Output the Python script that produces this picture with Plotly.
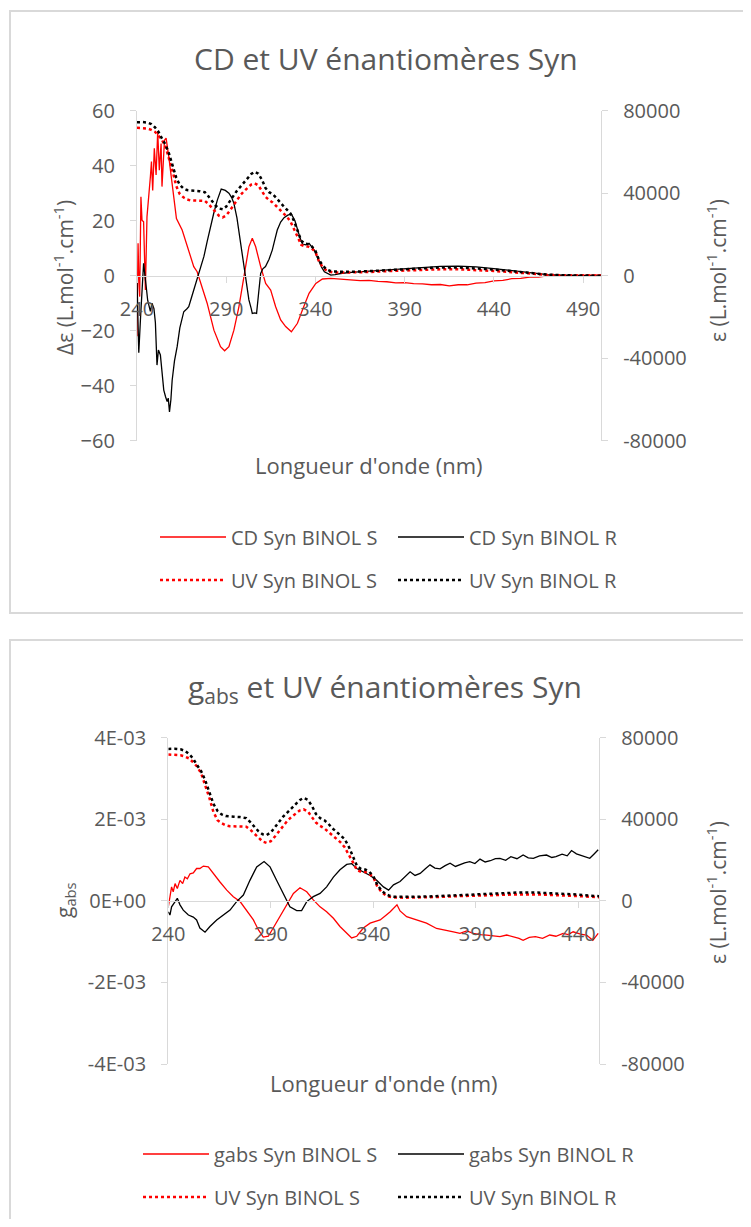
import plotly.graph_objs as go

# ---- data ----
uv_nm = [240, 243, 246, 248, 250, 252, 254, 256, 258, 260, 262, 264, 266, 268, 270, 272, 275, 278, 280, 282,
         284, 286, 288, 290, 292, 294, 296, 298, 300, 302, 304, 306, 308, 310, 312, 314, 316, 318, 320, 322,
         324, 326, 328, 330, 332, 334, 336, 338, 340, 342, 344, 346, 348, 350, 355, 360, 370, 380, 390, 400,
         410, 420, 430, 440, 450, 460, 470, 480, 490, 500]
uv_r = [74400, 74500, 74200, 73500, 72000, 69800, 66500, 63500, 59000, 53500, 47500, 44000, 42300, 41500, 41200, 41200, 41000, 40500, 38500, 36500,
        34000, 32600, 32200, 33500, 36200, 38800, 41200, 43200, 45300, 47300, 49300, 50400, 49500, 46500, 42500, 40500, 39500, 37800, 35500, 33800,
        32000, 30200, 26500, 22100, 17000, 15500, 15300, 14200, 12000, 7600, 5000, 3200, 2400, 2000, 1900, 1900, 2200, 2700, 3200, 3700,
        4000, 4000, 3600, 3000, 2200, 1200, 500, 200, 100, 0]
uv_s = [71700, 71500, 71300, 70700, 69800, 68000, 65800, 62500, 57000, 50500, 43500, 39500, 38000, 37000, 36500, 36400, 36500, 36300, 34800, 32800,
        30500, 29000, 28300, 29200, 31500, 34000, 36700, 39100, 41000, 42800, 44200, 44800, 43800, 41000, 38300, 36700, 35500, 33800, 32200, 30600,
        28600, 26200, 22800, 18900, 15000, 14200, 14100, 13200, 11500, 6800, 4300, 2700, 1900, 1600, 1500, 1500, 1800, 2200, 2600, 2900,
        3100, 3100, 2800, 2300, 1700, 1000, 400, 150, 50, 0]

cd_r_nm = [240, 240.5, 241, 242, 243, 243.7, 245, 246, 247.5, 248.4, 249.5, 250.3, 251.2, 252, 253.1, 254, 255, 256, 256.9, 257.5,
           258.2, 259, 259.7, 261, 262.5, 264, 266.2, 268, 269, 270.5, 271.8, 273.5, 275.6, 277.5, 279.3, 281, 283, 285, 287.2, 289.5,
           291.5, 293, 294.3, 296, 297, 298.5, 300, 301.5, 302.7, 304, 304.6, 306, 307, 308.2, 309.3, 310.5, 312, 314, 315.8, 317,
           318.6, 320.5, 322.4, 324.5, 326.5, 328.5, 330, 331.5, 332.7, 334.5, 336.4, 338, 339.3, 340.5, 342, 343.5, 345, 347, 348.6, 351,
           354, 360, 370, 380, 390, 400, 410, 420, 430, 440, 450, 460, 470, 480, 490, 500]
cd_r = [-2, -20, -28, -15, -2, 4.5, -3, -9, -13, -10, -12, -17, -32.5, -27, -28.8, -36, -41.6, -44, -45.8, -44.5,
        -49.5, -45, -38, -31, -25.8, -19, -13.1, -12, -11.3, -8, -5.2, -2, 2.1, 7, 12.4, 17.5, 22.7, 27.5, 31.5, 31,
        30, 28.5, 26.3, 21, 16.6, 9, 2.1, -4, -8.8, -12, -13.7, -13.5, -13.7, -6, 0.8, 2.5, 3.3, 6, 9.3, 12.5,
        16.6, 19.5, 21.1, 22, 22.4, 20, 16.6, 13.5, 11.5, 11.2, 11.8, 10.5, 9.3, 7.5, 5.1, 3, 1.45, 0.6, 0.2, 0.4,
        0.8, 1.2, 1.6, 2.0, 2.5, 3.0, 3.4, 3.5, 3.2, 2.6, 1.8, 1.0, 0.4, 0.2, 0.0, -0.2]

cd_s_nm = [240, 240.6, 240.9, 241.5, 242.2, 242.8, 243.7, 244.7, 245.6, 246.6, 247.5, 248.1, 248.8, 249.7, 250.7, 251.6, 252.5, 253.5, 254, 255.4,
           256.3, 257.8, 259.7, 262.1, 265.3, 268.1, 271.8, 273.7, 275.6, 279.3, 283.1, 286.8, 289.1, 291.5, 294.3, 297.1, 299.9, 302.7, 304.6, 306.5,
           309.3, 312.1, 314.9, 317.7, 320.5, 323.3, 326.5, 329.9, 332.7, 336.4, 340.2, 343.9, 348.6, 355, 360, 365, 370, 375, 380, 385,
           390, 395, 400, 405, 410, 415, 420, 425, 430, 435, 440, 445, 450, 455, 460, 465, 470, 480, 490, 500]
cd_s = [-22, 11.8, 2, -7.6, 28.7, 20.2, 19.6, -5.2, 21.5, 31.2, 36, 41.5, 31, 46.3, 36.6, 52.4, 38.4, 48.1, 32.4, 49.3,
        50, 43.3, 32.4, 20.8, 16.6, 10.5, 3.3, 1.45, -2.2, -10, -19.8, -25.8, -27.3, -25.8, -19.8, -11.3, -0.4, 10.5, 13.6, 10.5,
        3.3, -2.8, -5.2, -11.3, -16.1, -18.5, -20.4, -17.3, -12.5, -6.4, -2.8, -1.2, -1.0, -1.3, -1.4, -1.8, -1.7, -2.1, -2.2, -2.6,
        -2.5, -2.9, -3.0, -3.3, -3.2, -3.7, -3.3, -3.3, -2.7, -2.5, -1.9, -1.7, -1.1, -1.0, -0.5, -0.5, -0.1, 0.1, 0.2, 0.3]

gabs_s_nm = [240, 240.8, 241.6, 242.4, 243.3, 244.4, 245.7, 247, 248.1, 249.3, 250.6, 252.2, 253.8, 255.4, 257.1, 259.5, 262, 265.2, 268.5, 271.7,
             275, 278.2, 281.5, 283.9, 286.3, 288.8, 291.2, 294.5, 297.7, 301, 304.2, 307.5, 310.7, 314, 317.2, 320.5, 323.7, 327, 329.4, 331.9,
             335.1, 338.4, 341.6, 343.3, 346, 348.2, 351.5, 353, 356.2, 361, 365.9, 370.8, 375.7, 379, 382.2, 385.5, 388.7, 392, 395.2, 398.5,
             401.7, 405, 408, 411, 413, 416, 419, 422.5, 426, 429, 432.5, 435, 437.4, 441, 443.9, 447, 449.6]
gabs_s = [-0.15, 0.1, 0.34, 0.22, 0.42, 0.3, 0.5, 0.42, 0.58, 0.54, 0.66, 0.68, 0.79, 0.79, 0.85, 0.83, 0.66, 0.46, 0.26, 0.1,
          -0.02, -0.23, -0.47, -0.71, -0.89, -0.87, -0.67, -0.39, -0.1, 0.18, 0.32, 0.22, 0.02, -0.15, -0.27, -0.43, -0.63, -0.79, -0.91, -0.87,
          -0.67, -0.55, -0.51, -0.47, -0.36, -0.27, -0.1, -0.25, -0.39, -0.47, -0.55, -0.68, -0.72, -0.76, -0.8, -0.74, -0.8, -0.83, -0.84, -0.86,
          -0.88, -0.84, -0.88, -0.92, -0.97, -0.9, -0.88, -0.92, -0.84, -0.87, -0.8, -0.83, -0.76, -0.82, -0.84, -0.97, -0.8]
gabs_s = [v * 1e-3 for v in gabs_s]

gabs_r_nm = [240, 240.8, 241.6, 243.3, 244.4, 245.7, 247.3, 249.8, 252.2, 253.8, 255.4, 257.9, 260.3, 263.6, 266.8, 270.1, 273.3, 276.6, 279.8, 283.1,
             286.7, 289.6, 292.8, 296.1, 299.3, 302.6, 305, 307.5, 310.7, 314, 317.2, 320.5, 323.7, 327, 329.4, 331.9, 335.1, 338.4, 341.6, 344.9,
             347.4, 349.8, 353, 355.5, 357.9, 360.3, 362.8, 365.2, 367.6, 370, 372.5, 375, 377.4, 380, 382, 384.5, 387, 389.5, 392, 394.5,
             397, 399.5, 401.7, 404.5, 407, 410, 413, 415.5, 418, 421, 424.4, 427, 429, 432, 434.5, 436.6, 439, 441, 443, 445.5, 447.5, 449.6]
gabs_r = [-0.27, -0.35, -0.15, 0.0, 0.06, -0.1, -0.23, -0.35, -0.4, -0.47, -0.67, -0.77, -0.63, -0.47, -0.35, -0.23, -0.02, 0.14, 0.5, 0.83,
          0.96, 0.83, 0.5, 0.18, -0.15, -0.24, -0.24, -0.02, 0.1, 0.18, 0.34, 0.58, 0.76, 0.89, 0.91, 0.79, 0.7, 0.62, 0.5, 0.34,
          0.26, 0.39, 0.47, 0.6, 0.71, 0.62, 0.67, 0.78, 0.88, 0.8, 0.78, 0.86, 0.92, 0.84, 0.88, 0.93, 0.96, 0.91, 1.02, 0.95,
          0.98, 1.03, 1.04, 0.99, 1.08, 1.03, 1.12, 1.05, 1.04, 1.1, 1.12, 1.06, 1.08, 1.14, 1.1, 1.23, 1.15, 1.12, 1.08, 1.04, 1.14, 1.25]
gabs_r = [v * 1e-3 for v in gabs_r]

eps_ticks = [-80000, -40000, 0, 40000, 80000]
eps_text = ['-80000', '-40000', '0', '40000', '80000']
gabs_ticks = [-0.004, -0.002, 0, 0.002, 0.004]
gabs_text = ['-4E-03', '-2E-03', '0E+00', '2E-03', '4E-03']

# ---- page geometry: figure sits inside the default 8px body margin ----
OFF = 8
W, H = 751 - 2 * OFF, 1227 - 2 * OFF
def fx(px):
    return (px - OFF) / W
def fy(py):
    return 1 - (py - OFF) / H

GREY = '#595959'
LINE = '#d9d9d9'
FONT = 'Open Sans'
RED = '#ff0000'

def tr(x, y, name, color, dot, xa, ya, lg):
    return go.Scatter(x=x, y=y, mode='lines', name=name, xaxis=xa, yaxis=ya, legend=lg, showlegend=True,
                      line=dict(color=color, width=2.5 if dot else 1.3, dash='dot' if dot else 'solid'))

data = [
    tr(cd_s_nm, cd_s, 'CD Syn BINOL S', RED, False, 'x', 'y', 'legend'),
    tr(cd_r_nm, cd_r, 'CD Syn BINOL R', 'black', False, 'x', 'y', 'legend2'),
    tr(uv_nm, uv_s, 'UV Syn BINOL S', RED, True, 'x', 'y2', 'legend3'),
    tr(uv_nm, uv_r, 'UV Syn BINOL R', 'black', True, 'x', 'y2', 'legend4'),
    tr(gabs_s_nm, gabs_s, 'gabs Syn BINOL S', RED, False, 'x2', 'y3', 'legend5'),
    tr(gabs_r_nm, gabs_r, 'gabs Syn BINOL R', 'black', False, 'x2', 'y3', 'legend6'),
    tr(uv_nm, uv_s, 'UV Syn BINOL S', RED, True, 'x2', 'y4', 'legend7'),
    tr(uv_nm, uv_r, 'UV Syn BINOL R', 'black', True, 'x2', 'y4', 'legend8'),
]

tick_font = dict(family=FONT, size=20, color=GREY)
y1_dom = [fy(440.7), fy(110.7)]
y3_dom = [fy(1064), fy(737.5)]

def xax(dom, yd, rng, ticks):
    return dict(domain=dom, range=rng, anchor='free', position=(yd[0] + yd[1]) / 2,
                tickvals=ticks, ticks='outside', ticklen=6, tickcolor=LINE, automargin=False,
                showline=True, linecolor=LINE, linewidth=1.3, showgrid=False, zeroline=False,
                tickfont=tick_font, ticklabelstandoff=9)

def yax(dom, rng, vals, text, side, anchor, overlay=None):
    d = dict(domain=dom, range=rng, tickvals=vals, ticktext=text, ticks='outside', ticklen=6, tickcolor=LINE,
             showline=True, linecolor=LINE, linewidth=1.3, showgrid=False, zeroline=False, automargin=False,
             tickfont=tick_font, side=side, anchor=anchor, ticklabelstandoff=11)
    if overlay:
        d['overlaying'] = overlay
    return d

def leg(px, py):
    return dict(x=fx(px), y=fy(py), xanchor='left', yanchor='middle', itemwidth=66,
                font=dict(family=FONT, size=20, color=GREY), bgcolor='rgba(0,0,0,0)')

def note(text, px, py, size, angle=0):
    return dict(text=text, x=fx(px), y=fy(py), xref='paper', yref='paper', textangle=angle,
                xanchor='center', yanchor='middle',
                showarrow=False, font=dict(family=FONT, size=size, color=GREY))

layout = go.Layout(
    width=W, height=H, margin=dict(l=0, r=0, t=0, b=0, autoexpand=False), showlegend=True,
    paper_bgcolor='white', plot_bgcolor='white', font=dict(family=FONT, color=GREY),
    xaxis=xax([fx(137), fx(601)], y1_dom, [240, 500], [240, 290, 340, 390, 440, 490]),
    yaxis=yax(y1_dom, [-60, 60], [-60, -40, -20, 0, 20, 40, 60], None, 'left', 'x'),
    yaxis2=yax(y1_dom, [-80000, 80000], eps_ticks, eps_text, 'right', 'x', overlay='y'),
    xaxis2=xax([fx(168.3), fx(599)], y3_dom, [240, 450], [240, 290, 340, 390, 440]),
    yaxis3=yax(y3_dom, [-0.004, 0.004], gabs_ticks, gabs_text, 'left', 'x2'),
    yaxis4=yax(y3_dom, [-80000, 80000], eps_ticks, eps_text, 'right', 'x2', overlay='y3'),
    legend=leg(155, 537),
    legend2=leg(393, 537),
    legend3=leg(155, 580),
    legend4=leg(393, 580),
    legend5=leg(138, 1154),
    legend6=leg(393, 1154),
    legend7=leg(138, 1197),
    legend8=leg(393, 1197),
    shapes=[
        dict(type='rect', xref='paper', yref='paper', x0=fx(10), x1=fx(770), y0=fy(613), y1=fy(11),
             line=dict(color=LINE, width=2)),
        dict(type='rect', xref='paper', yref='paper', x0=fx(10), x1=fx(770), y0=fy(1240), y1=fy(640),
             line=dict(color=LINE, width=2)),
    ],
    annotations=[
        note('CD et UV énantiomères Syn', 386, 58, 30),
        note('Longueur d\'onde (nm)', 369, 465, 22),
        note('Δε (L.mol<sup>-1</sup>.cm<sup>-1</sup>)', 63, 278, 21, -90),
        note('ε (L.mol<sup>-1</sup>.cm<sup>-1</sup>)', 716, 271, 21, -90),
        note('g<sub>abs</sub> et UV énantiomères Syn', 385, 688, 30),
        note('Longueur d\'onde (nm)', 384, 1083, 22),
        note('g<sub>abs</sub>', 65, 900, 21, -90),
        note('ε (L.mol<sup>-1</sup>.cm<sup>-1</sup>)', 716, 893, 21, -90),
    ],
)

fig = go.Figure(data=data, layout=layout)
fig.write_html("out.html")
